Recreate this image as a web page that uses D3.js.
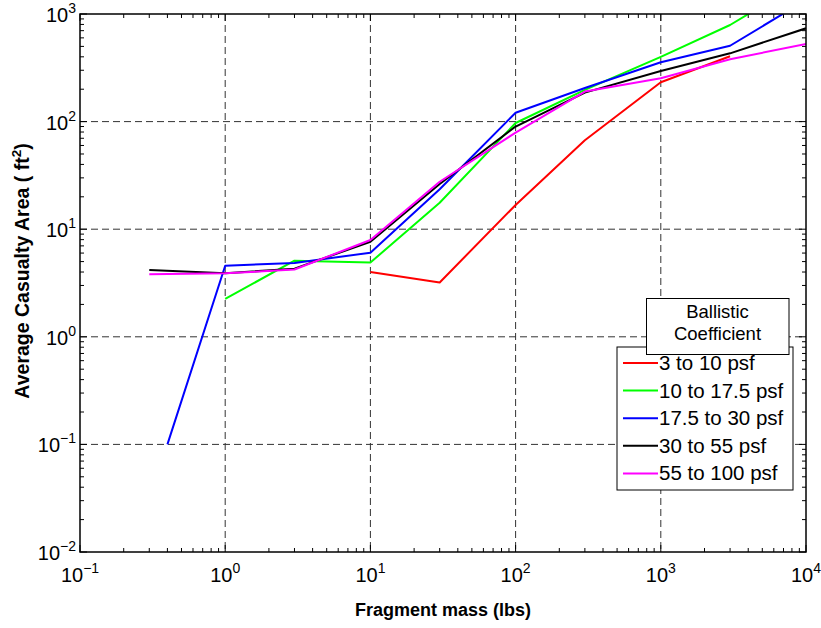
<!DOCTYPE html>
<html>
<head>
<meta charset="utf-8">
<script src="https://cdn.jsdelivr.net/npm/d3@7"></script>
<style>
  body { margin: 0; background: #fff; }
  text { font-family: "Liberation Sans", Arial, Helvetica, sans-serif; }
</style>
</head>
<body>
<div id="chart"></div>
<script>
// fragment masses (lbs)
var masses = [0.3, 1, 3, 10, 30, 100, 300, 1000, 3000, 10000];
var blueMasses = [0.4, 1, 3, 10, 30, 100, 300, 1000, 3000, 10000];

// average casualty area (ft^2), null = no value
var red     = [null, null, null, 4.0, 3.2, 16.8, 67, 232, 405, null];
var green   = [null, 2.25, 5.1, 4.9, 17.6, 97, 197, 400, 790, 2100];
var blue    = [0.1, 4.58, 4.85, 6.05, 23.5, 121, 205, 356, 507, 1350];
var black   = [4.18, 3.89, 4.3, 7.65, 26.3, 90, 186, 295, 431, 736];
var magenta = [3.81, 3.89, 4.22, 7.94, 27.6, 79, 190, 253, 380, 526];

var seriesNames = ["3 to 10 psf", "10 to 17.5 psf", "17.5 to 30 psf", "30 to 55 psf", "55 to 100 psf"];
var seriesColors = ["#ff0000", "#00ff00", "#0000ff", "#000000", "#ff00ff"];

var xTicks = [-1, 0, 1, 2, 3, 4];
var yTicks = [-2, -1, 0, 1, 2, 3];

var width = 821, height = 628;
var margin = {top: 14, right: 15, bottom: 76, left: 80};
var w = width - margin.left - margin.right;
var h = height - margin.top - margin.bottom;

var svg = d3.select("#chart").append("svg")
    .attr("width", width)
    .attr("height", height);

svg.append("rect").attr("width", width).attr("height", height).attr("fill", "#fff");

var g = svg.append("g")
    .attr("transform", "translate(" + margin.left + "," + margin.top + ")");

var x = d3.scaleLog().domain([0.1, 10000]).range([0, w]);
var y = d3.scaleLog().domain([0.01, 1000]).range([h, 0]);

// grid
var gridColor = "#333";
g.selectAll(".gx").data(xTicks.slice(1, -1)).enter().append("line")
    .attr("x1", function(d) { return x(Math.pow(10, d)); })
    .attr("x2", function(d) { return x(Math.pow(10, d)); })
    .attr("y1", 0).attr("y2", h)
    .attr("stroke", gridColor).attr("stroke-width", 1)
    .attr("stroke-dasharray", "7,4");
g.selectAll(".gy").data(yTicks.slice(1, -1)).enter().append("line")
    .attr("y1", function(d) { return y(Math.pow(10, d)); })
    .attr("y2", function(d) { return y(Math.pow(10, d)); })
    .attr("x1", 0).attr("x2", w)
    .attr("stroke", gridColor).attr("stroke-width", 1)
    .attr("stroke-dasharray", "7,4");

// minor + major ticks (inside, all four sides)
function tickVals(lo, hi) {
    var out = [];
    for (var e = lo; e < hi; e++) {
        for (var k = 1; k < 10; k++) out.push({v: k * Math.pow(10, e), major: k === 1});
    }
    out.push({v: Math.pow(10, hi), major: true});
    return out;
}
var xt = tickVals(-1, 4), yt = tickVals(-2, 3);
var majorLen = 7, minorLen = 4;
xt.forEach(function(t) {
    var L = t.major ? majorLen : minorLen;
    g.append("line").attr("x1", x(t.v)).attr("x2", x(t.v)).attr("y1", h).attr("y2", h - L)
        .attr("stroke", "#000").attr("stroke-width", 1);
    g.append("line").attr("x1", x(t.v)).attr("x2", x(t.v)).attr("y1", 0).attr("y2", L)
        .attr("stroke", "#000").attr("stroke-width", 1);
});
yt.forEach(function(t) {
    var L = t.major ? majorLen : minorLen;
    g.append("line").attr("y1", y(t.v)).attr("y2", y(t.v)).attr("x1", 0).attr("x2", L)
        .attr("stroke", "#000").attr("stroke-width", 1);
    g.append("line").attr("y1", y(t.v)).attr("y2", y(t.v)).attr("x1", w).attr("x2", w - L)
        .attr("stroke", "#000").attr("stroke-width", 1);
});

// clip for data
svg.append("defs").append("clipPath").attr("id", "plotclip")
    .append("rect").attr("width", w).attr("height", h);

var allSeries = [
    {xs: masses, ys: red},
    {xs: masses, ys: green},
    {xs: blueMasses, ys: blue},
    {xs: masses, ys: black},
    {xs: masses, ys: magenta}
];

var line = d3.line()
    .defined(function(d) { return d[1] !== null; })
    .x(function(d) { return x(d[0]); })
    .y(function(d) { return y(d[1]); });

var lines = g.append("g").attr("clip-path", "url(#plotclip)");
allSeries.forEach(function(s, i) {
    var pts = s.xs.map(function(m, j) { return [m, s.ys[j]]; });
    lines.append("path")
        .attr("d", line(pts))
        .attr("fill", "none")
        .attr("stroke", seriesColors[i])
        .attr("stroke-width", 2)
        .attr("stroke-linejoin", "round");
});

// box
g.append("rect").attr("width", w).attr("height", h)
    .attr("fill", "none").attr("stroke", "#000").attr("stroke-width", 1.5);

// tick labels
var tickFont = 20, supFont = 14;
xTicks.forEach(function(e) {
    var t = g.append("text")
        .attr("x", x(Math.pow(10, e)))
        .attr("y", h + 30)
        .attr("text-anchor", "middle")
        .attr("font-size", tickFont);
    t.append("tspan").text("10");
    t.append("tspan").attr("dy", -9).attr("font-size", supFont).text(e < 0 ? "\u2212" + (-e) : e);
});
yTicks.forEach(function(e) {
    var t = g.append("text")
        .attr("x", -4)
        .attr("y", y(Math.pow(10, e)) + 8)
        .attr("text-anchor", "end")
        .attr("font-size", tickFont);
    t.append("tspan").text("10");
    t.append("tspan").attr("dy", -9).attr("font-size", supFont).text(e < 0 ? "\u2212" + (-e) : e);
});

// axis labels
svg.append("text")
    .attr("x", margin.left + w / 2)
    .attr("y", 616)
    .attr("text-anchor", "middle")
    .attr("font-size", 18)
    .attr("font-weight", "bold")
    .text("Fragment mass (lbs)");

var yl = svg.append("text")
    .attr("transform", "translate(29," + 271 + ") rotate(-90)")
    .attr("text-anchor", "middle")
    .attr("font-size", 19.5)
    .attr("font-weight", "bold");
yl.append("tspan").text("Average Casualty Area ( ft");
yl.append("tspan").attr("dy", -8).attr("font-size", 13.5).text("2");
yl.append("tspan").attr("dy", 8).text(")");

// legend
var legX = 617, legY = 347, legW = 176, legH = 143;
svg.append("rect").attr("x", legX).attr("y", legY).attr("width", legW).attr("height", legH)
    .attr("fill", "#fff").attr("stroke", "#000").attr("stroke-width", 1);
seriesNames.forEach(function(name, i) {
    var cy = 363 + i * 27.6;
    svg.append("line").attr("x1", 623).attr("x2", 658).attr("y1", cy).attr("y2", cy)
        .attr("stroke", seriesColors[i]).attr("stroke-width", 2);
    svg.append("text").attr("x", 659).attr("y", cy + 7).attr("font-size", 20.5).text(name);
});

// legend title box
svg.append("rect").attr("x", 646.5).attr("y", 298.5).attr("width", 142.5).attr("height", 56)
    .attr("fill", "#fff").attr("stroke", "#000").attr("stroke-width", 1);
svg.append("text").attr("x", 717.5).attr("y", 318).attr("text-anchor", "middle")
    .attr("font-size", 18.5).text("Ballistic");
svg.append("text").attr("x", 717.5).attr("y", 340).attr("text-anchor", "middle")
    .attr("font-size", 18.5).text("Coefficient");
</script>
</body>
</html>
